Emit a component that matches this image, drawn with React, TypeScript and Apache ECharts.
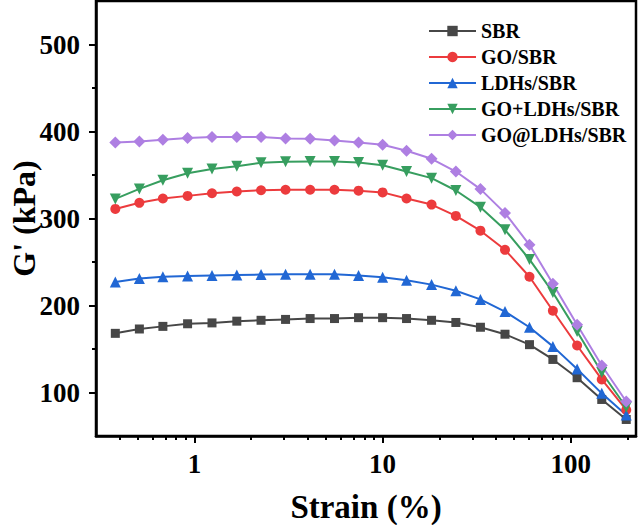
import React, { useEffect, useRef } from 'react';
import * as echarts from 'echarts';

// strain (%) of each measured point
const strain = [0.38, 0.51, 0.68, 0.92, 1.24, 1.68, 2.26, 3.05, 4.12, 5.55, 7.45, 10, 13.4, 18.2, 24.5, 33.1, 44.7, 60.3, 80.3, 108, 146, 197];

// G' (kPa)
const sbr = [168, 173, 176, 179, 180, 182, 183, 184, 185, 185, 186, 186, 185, 183, 180.5, 175, 167, 155, 138, 117, 92, 69];
const goSbr = [311, 318, 323, 326, 329, 331, 332.5, 333, 333, 333, 332, 330, 323, 316, 303, 286, 264, 233, 194, 154, 115, 80];
const ldhsSbr = [227, 231, 233, 234, 234.5, 235, 235.5, 236, 236, 236, 234.5, 232.5, 229, 224, 217, 207, 193, 175, 153, 127, 99, 74];
const goPlusLdhsSbr = [322.5, 334, 344, 352, 357, 360, 364, 365.3, 365.5, 365.4, 364.3, 361.2, 354, 346.4, 332.2, 313, 287, 253, 215, 170, 123, 83];
const goAtLdhsSbr = [387.4, 388.5, 390.5, 392.5, 393.6, 393.6, 393.6, 392, 391.6, 389.7, 387.4, 384.7, 377.8, 368.6, 354, 333.8, 306.2, 269.8, 224.9, 177.8, 131, 89.7];

const seriesNames = ['SBR', 'GO/SBR', 'LDHs/SBR', 'GO+LDHs/SBR', 'GO@LDHs/SBR'];

// tick positions
const yMajorTicks = [100, 200, 300, 400, 500];
const yMinorTicks = [150, 250, 350, 450];
const xMinorTicks = [0.4, 0.5, 0.6, 0.7, 0.8, 0.9, 2, 3, 4, 5, 6, 7, 8, 9, 20, 30, 40, 50, 60, 70, 80, 90, 200];

const X_MIN = 0.3;
const X_MAX = 222;
const FONT = "'Liberation Serif', 'Times New Roman', serif";

export default function App() {
    const chartRef = useRef<HTMLDivElement | null>(null);

    useEffect(() => {
        if (!chartRef.current) return;
        const chart = echarts.init(chartRef.current, null, { renderer: 'svg' });

        const mk = (
            name: string,
            values: number[],
            color: string,
            symbol: string,
            size: number,
            rotate = 0
        ) => ({
            name,
            type: 'line',
            xAxisIndex: 0,
            yAxisIndex: 0,
            data: strain.map((x, i) => [x, values[i]]),
            symbol,
            symbolSize: size,
            symbolRotate: rotate,
            lineStyle: { color, width: 2 },
            itemStyle: { color, borderWidth: 0 },
        });

        const option = {
            animation: false,
            grid: {
                left: 96,
                right: 2,
                top: 1,
                bottom: 89,
                outerBoundsMode: 'none',
                containLabel: false,
                show: true,
                borderColor: '#000',
                borderWidth: 2.5,
            },
            legend: {
                orient: 'vertical',
                left: 423,
                top: 16,
                itemWidth: 47,
                itemHeight: 13,
                itemGap: 6,
                data: seriesNames,
                textStyle: {
                    fontFamily: FONT,
                    fontWeight: 'bold',
                    fontSize: 20,
                    lineHeight: 20,
                    color: '#000',
                },
            },
            xAxis: [
                {
                    type: 'log',
                    logBase: 10,
                    min: X_MIN,
                    max: X_MAX,
                    position: 'bottom',
                    name: 'Strain (%)',
                    nameLocation: 'middle',
                    nameGap: 54,
                    nameMoveOverlap: false,
                    nameTextStyle: { fontFamily: FONT, fontWeight: 'bold', fontSize: 33, color: '#000' },
                    axisLine: { onZero: false, lineStyle: { color: '#000', width: 2.5 } },
                    axisTick: { inside: false, length: 7, lineStyle: { color: '#000', width: 2 } },
                    minorTick: { show: false },
                    axisLabel: {
                        margin: 14,
                        showMinLabel: false,
                        showMaxLabel: false,
                        fontFamily: FONT,
                        fontWeight: 'bold',
                        fontSize: 27,
                        color: '#000',
                    },
                    splitLine: { show: false },
                },
                {
                    // minor ticks of the log axis, in log10 units
                    type: 'value',
                    min: Math.log10(X_MIN),
                    max: Math.log10(X_MAX),
                    position: 'bottom',
                    axisLine: { show: false, onZero: false },
                    axisTick: {
                        show: true,
                        length: 4,
                        customValues: xMinorTicks.map(v => Math.log10(v)),
                        lineStyle: { color: '#000', width: 2 },
                    },
                    axisLabel: { show: false },
                    splitLine: { show: false },
                },
            ],
            yAxis: [
                {
                    type: 'value',
                    min: 50,
                    max: 550,
                    position: 'left',
                    name: "G' (kPa)",
                    nameLocation: 'middle',
                    nameRotate: 90,
                    nameGap: 56,
                    nameMoveOverlap: false,
                    nameTextStyle: { fontFamily: FONT, fontWeight: 'bold', fontSize: 32, color: '#000' },
                    axisLine: { show: true, onZero: false, lineStyle: { color: '#000', width: 2.5 } },
                    axisTick: {
                        show: true,
                        length: 7,
                        customValues: yMajorTicks,
                        lineStyle: { color: '#000', width: 2 },
                    },
                    axisLabel: {
                        margin: 16,
                        customValues: yMajorTicks,
                        fontFamily: FONT,
                        fontWeight: 'bold',
                        fontSize: 27,
                        color: '#000',
                    },
                    splitLine: { show: false },
                },
                {
                    type: 'value',
                    min: 50,
                    max: 550,
                    position: 'left',
                    axisLine: { show: false, onZero: false },
                    axisTick: {
                        show: true,
                        length: 4,
                        customValues: yMinorTicks,
                        lineStyle: { color: '#000', width: 2 },
                    },
                    axisLabel: { show: false },
                    splitLine: { show: false },
                },
            ],
            series: [
                mk(seriesNames[0], sbr, '#474747', 'rect', 9),
                mk(seriesNames[1], goSbr, '#ec3b3d', 'circle', 10),
                mk(seriesNames[2], ldhsSbr, '#2167d4', 'triangle', 11),
                mk(seriesNames[3], goPlusLdhsSbr, '#379e5f', 'triangle', 11, 180),
                mk(seriesNames[4], goAtLdhsSbr, '#ae7fe2', 'diamond', 12),
            ],
        };

        chart.setOption(option);

        return () => {
            chart.dispose();
        };
    }, []);

    return (
        <div
            ref={chartRef}
            style={{ position: 'fixed', left: 0, top: 0, width: 638, height: 525, background: '#fff' }}
        />
    );
}
